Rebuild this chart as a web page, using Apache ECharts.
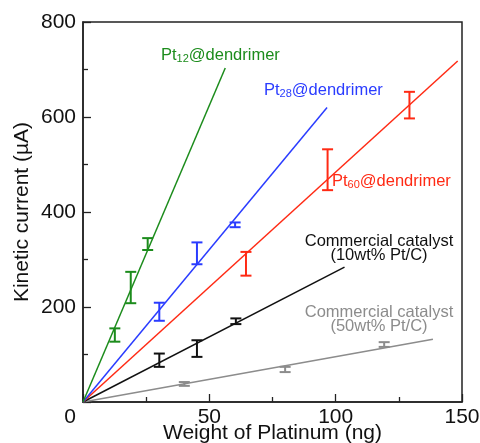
<!DOCTYPE html>
<html><head><meta charset="utf-8">
<script src="https://cdn.jsdelivr.net/npm/echarts@6/dist/echarts.min.js"></script>
<style>html,body{margin:0;padding:0;background:#fff}#c{width:480px;height:443px}</style>
</head><body><div id="c"></div>
<script>
// Fitted lines from origin to end point [x, y]
var greenLine = [[0, 0], [56.3, 703]];
var blueLine  = [[0, 0], [96.6, 620]];
var redLine   = [[0, 0], [148.3, 718]];
var blackLine = [[0, 0], [103.5, 284]];
var grayLine  = [[0, 0], [138.5, 132]];
// Error bars [x, low, high]
var greenErr = [[12.6, 127, 155], [18.9, 208, 274], [25.6, 320, 345]];
var blueErr  = [[30.2, 171, 209], [45.1, 290, 336], [60.2, 368, 378]];
var redErr   = [[64.5, 266, 316], [96.8, 446, 532], [129.2, 597, 653]];
var blackErr = [[30.2, 74, 102], [45.1, 95, 130], [60.5, 164, 176]];
var grayErr  = [[40.1, 34, 42], [80.0, 63, 74], [119.2, 116, 126]];
var xTicks = [0, 50, 100, 150];
var yTicks = [200, 400, 600, 800];

var C = {green: '#1c8c1c', blue: '#2a3cff', red: '#ff2a14', black: '#111111', gray: '#8c8c8c'};
var FONT = '"Liberation Sans", Arial, Helvetica, sans-serif';

function lineSeries(d, col) {
  return {type: 'line', data: d, symbol: 'none', lineStyle: {color: col, width: 1.5}, z: 3, silent: true};
}
function errSeries(d, col) {
  return {
    type: 'custom', data: d, z: 4, silent: true,
    encode: {x: 0, y: [1, 2]},
    renderItem: function (params, api) {
      var x = api.value(0), lo = api.value(1), hi = api.value(2);
      var p1 = api.coord([x, lo]), p2 = api.coord([x, hi]);
      var w = 5.5;
      var st = {stroke: col, lineWidth: 2, fill: null};
      return {type: 'group', children: [
        {type: 'line', shape: {x1: p1[0], y1: p1[1], x2: p2[0], y2: p2[1]}, style: st},
        {type: 'line', shape: {x1: p1[0] - w, y1: p1[1], x2: p1[0] + w, y2: p1[1]}, style: st},
        {type: 'line', shape: {x1: p2[0] - w, y1: p2[1], x2: p2[0] + w, y2: p2[1]}, style: st}
      ]};
    }
  };
}

var chart = echarts.init(document.getElementById('c'), null, {renderer: 'canvas'});
var axisCommon = {
  nameMoveOverlap: false,
  axisLine: {show: true, lineStyle: {color: '#222', width: 1.5}},
  axisTick: {show: true, inside: true, length: 8, lineStyle: {color: '#222', width: 1.3}},
  minorTick: {show: true, splitNumber: 2, length: 5, lineStyle: {color: '#222', width: 1.3}},
  splitLine: {show: false},
  nameTextStyle: {fontFamily: FONT, fontSize: 21, color: '#111'}
};
function rs(col, sub) {
  return sub ? {fontFamily: FONT, fontSize: 11, fill: col, verticalAlign: 'bottom'}
             : {fontFamily: FONT, fontSize: 16.5, fill: col};
}
var rich = {
  g: rs(C.green), gs: rs(C.green, 1),
  b: rs(C.blue), bs: rs(C.blue, 1),
  r: rs(C.red), rs: rs(C.red, 1)
};
chart.setOption({
  animation: false,
  backgroundColor: '#fff',
  grid: {left: 83, right: 18, top: 22, bottom: 41, outerBoundsMode: 'none', containLabel: false,
    show: true, borderColor: '#222', borderWidth: 1.5, backgroundColor: 'transparent'},
  xAxis: Object.assign({}, axisCommon, {
    type: 'value', min: xTicks[0], max: xTicks[xTicks.length - 1], interval: 50,
    name: 'Weight of Platinum (ng)', nameLocation: 'middle', nameGap: 21,
    axisLabel: {fontFamily: FONT, fontSize: 21, color: '#111', margin: 5,
      formatter: function (v) { return v === 0 ? '{z|0}' : String(v); },
      rich: {z: {fontFamily: FONT, fontSize: 21, color: '#111', padding: [0, 26, 0, 0]}}}
  }),
  yAxis: Object.assign({}, axisCommon, {
    type: 'value', min: 0, max: yTicks[yTicks.length - 1], interval: 200,
    name: 'Kinetic current (\u00b5A)', nameLocation: 'middle', nameGap: 50,
    axisLabel: {fontFamily: FONT, fontSize: 21, color: '#111', margin: 7,
      formatter: function (v) { return v === 0 ? '' : String(v); }}
  }),
  series: [
    lineSeries(grayLine, C.gray), lineSeries(blackLine, C.black), lineSeries(redLine, C.red),
    lineSeries(blueLine, C.blue), lineSeries(greenLine, C.green),
    errSeries(grayErr, C.gray), errSeries(blackErr, C.black), errSeries(redErr, C.red),
    errSeries(blueErr, C.blue), errSeries(greenErr, C.green)
  ],
  graphic: [
    {type: 'text', left: 161, top: 47, style: {text: '{g|Pt}{gs|12}{g|@dendrimer}', rich: rich}},
    {type: 'text', left: 264, top: 82, style: {text: '{b|Pt}{bs|28}{b|@dendrimer}', rich: rich}},
    {type: 'text', left: 332, top: 173, style: {text: '{r|Pt}{rs|60}{r|@dendrimer}', rich: rich}},
    {type: 'text', x: 379, y: 234, style: {text: 'Commercial catalyst\n(10wt% Pt/C)', align: 'center', fontFamily: FONT, fontSize: 16.5, lineHeight: 14, fill: C.black}},
    {type: 'text', x: 379, y: 305, style: {text: 'Commercial catalyst\n(50wt% Pt/C)', align: 'center', fontFamily: FONT, fontSize: 16.5, lineHeight: 14, fill: C.gray}}
  ]
});
</script></body></html>
